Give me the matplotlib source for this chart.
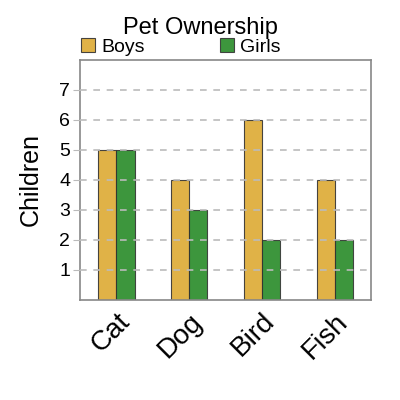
import matplotlib
matplotlib.use("Agg")
import matplotlib.pyplot as plt
import numpy as np

categories = ["Cat", "Dog", "Bird", "Fish"]
boys = [5, 4, 6, 4]
girls = [5, 3, 2, 2]
yticks = [1, 2, 3, 4, 5, 6, 7]

plt.rcParams['font.family'] = ['Liberation Sans', 'DejaVu Sans']

fig = plt.figure(figsize=(4, 4), dpi=100)
ax = fig.add_axes([0.2, 0.25, 0.728, 0.6])

x = np.arange(len(categories))
w = 0.25
ax.bar(x - w/2, boys, w, color="#DDAA33", edgecolor="#333333", linewidth=0.8, alpha=0.9, label="Boys", zorder=2)
ax.bar(x + w/2, girls, w, color="#228822", edgecolor="#333333", linewidth=0.8, alpha=0.88, label="Girls", zorder=2)

ax.set_xlim(-0.5, 3.5)
ax.set_ylim(0, 8)
ax.set_yticks(yticks)
ax.set_yticklabels([str(v) for v in yticks], fontsize=14)
ax.yaxis.grid(True, linestyle=(0, (4, 4)), color="#bbbbbb", linewidth=1.2, zorder=3)
ax.set_axisbelow(False)
ax.set_xticks(x)
ax.set_xticklabels(categories, rotation=45, fontsize=20, ha="right", rotation_mode="anchor")
ax.tick_params(axis="x", length=0, pad=6)
ax.tick_params(axis="y", length=5, color="#bbbbbb", pad=2)
for s in ax.spines.values():
    s.set_color("#888888")
    s.set_linewidth(1.2)

ax.set_ylabel("Children", fontsize=18, labelpad=12)
fig.text(0.5, 0.93, "Pet Ownership", ha="center", va="center", fontsize=17)
leg = fig.legend(loc="center", bbox_to_anchor=(0.452, 0.883), ncol=2, frameon=False,
                 fontsize=14, handlelength=0.7, handleheight=0.7, handletextpad=0.3,
                 columnspacing=3.9, borderaxespad=0)

fig.savefig("out.png", dpi=100)
